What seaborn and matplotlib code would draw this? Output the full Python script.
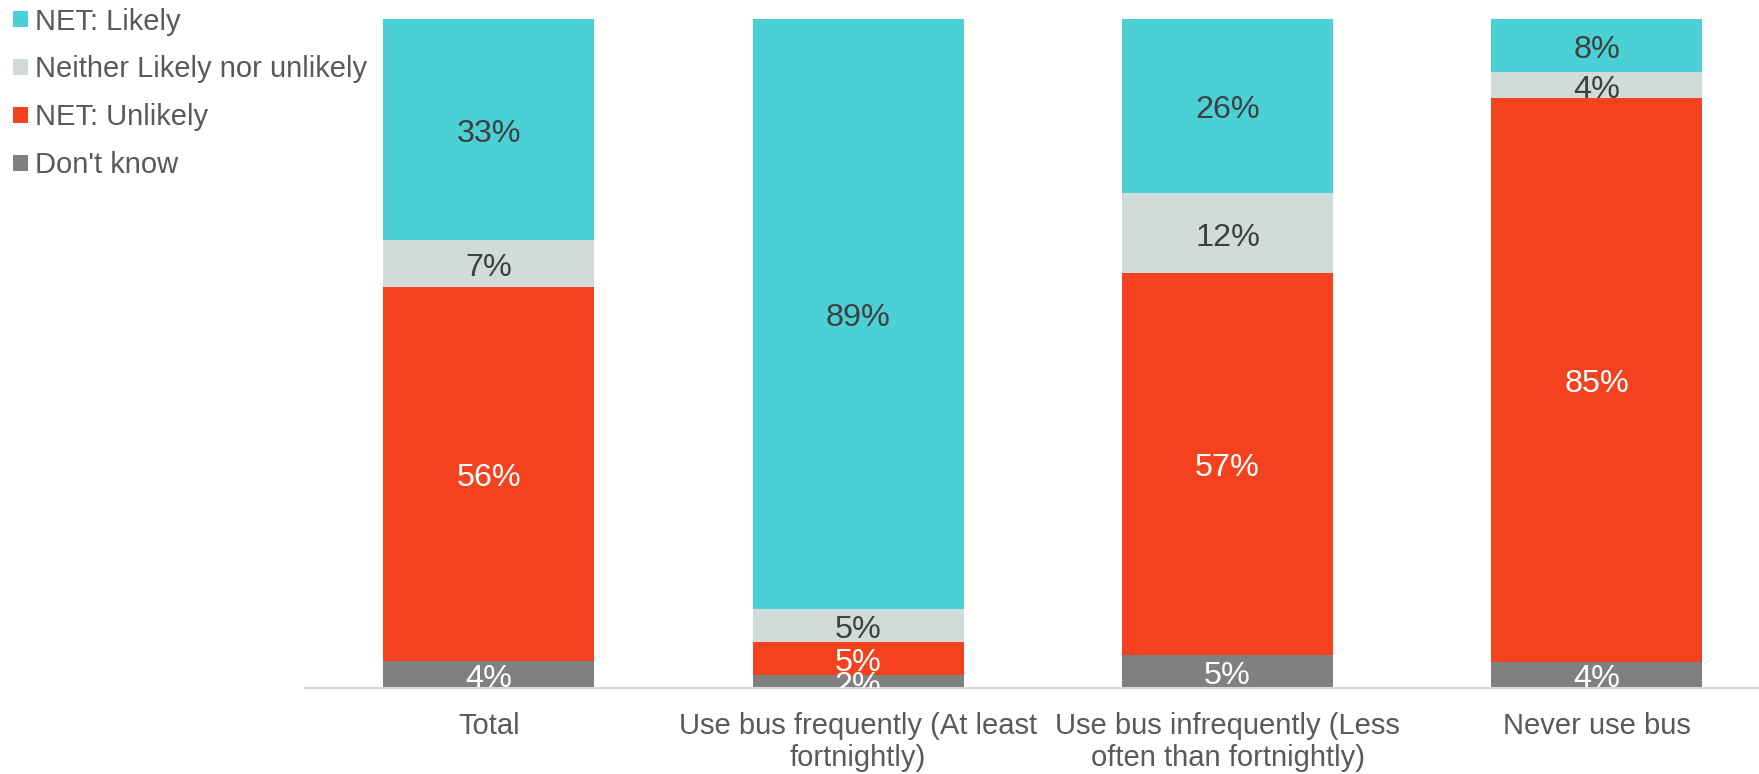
import matplotlib
matplotlib.use("Agg")
import matplotlib.pyplot as plt
from matplotlib.patches import Patch
from matplotlib.transforms import offset_copy
import seaborn as sns
import numpy as np

categories = [
    "Total",
    "Use bus frequently (At least\nfortnightly)",
    "Use bus infrequently (Less\noften than fortnightly)",
    "Never use bus",
]
series = ["NET: Likely", "Neither Likely nor unlikely", "NET: Unlikely", "Don't know"]
likely = [33, 89, 26, 8]
neither = [7, 5, 12, 4]
unlikely = [56, 5, 57, 85]
dont_know = [4, 2, 5, 4]

colors = {
    "NET: Likely": "#4BD0D6",
    "Neither Likely nor unlikely": "#D1DBDA",
    "NET: Unlikely": "#F4411E",
    "Don't know": "#808080",
}
label_colors = {
    "NET: Likely": "#404040",
    "Neither Likely nor unlikely": "#404040",
    "NET: Unlikely": "white",
    "Don't know": "white",
}

sns.set_theme(style="white")
plt.rcParams["font.family"] = ["Liberation Sans", "DejaVu Sans"]

fig = plt.figure(figsize=(17.59, 7.74), dpi=100)
ax = fig.add_axes([305 / 1759, 86 / 774, 1 - 305 / 1759, 669 / 774])

# stacking order from the baseline upwards
stack = [("Don't know", dont_know), ("NET: Unlikely", unlikely),
         ("Neither Likely nor unlikely", neither), ("NET: Likely", likely)]
vals = np.array([v for _, v in stack], dtype=float)
shares = vals / vals.sum(axis=0) * 100  # 100% stacked
cum = np.cumsum(shares, axis=0)

# draw cumulative totals from the tallest down so each layer shows its own segment
for k in range(len(stack) - 1, -1, -1):
    name = stack[k][0]
    sns.barplot(x=categories, y=cum[k], order=categories, color=colors[name],
                saturation=1, width=0.571, linewidth=0, ax=ax)

label_tr = offset_copy(ax.transData, fig=fig, x=0, y=-4.5, units="dots")
for k, (name, raw) in enumerate(stack):
    lower = cum[k] - shares[k]
    for i in range(len(categories)):
        mid = lower[i] + shares[k][i] / 2
        ax.text(i, mid, f"{raw[i]}%", ha="center", va="center", fontsize=23.3,
                color=label_colors[name], clip_on=True, zorder=4,
                transform=label_tr)

ax.set_xlim(-0.498, 3.439)
ax.set_ylim(0, 100)
ax.set_yticks([])
ax.set_ylabel("")
for s in ["top", "left", "right"]:
    ax.spines[s].set_visible(False)
ax.spines["bottom"].set_color("#D9D9D9")
ax.spines["bottom"].set_linewidth(1.5)
ax.tick_params(axis="x", length=0, pad=17, labelsize=21, labelcolor="#595959")
for t in ax.get_xticklabels():
    t.set_linespacing(1.22)

handles = [Patch(facecolor=colors[n], edgecolor="none", label=n) for n in series]
fig.legend(handles=handles, loc="upper left", bbox_to_anchor=(13 / 1759, 1 - 7.5 / 774),
           frameon=False, fontsize=21, labelcolor="#595959", handlelength=0.5,
           handleheight=0.5, handletextpad=0.25, labelspacing=0.685,
           borderpad=0, borderaxespad=0)

fig.savefig("out.png", dpi=100)
